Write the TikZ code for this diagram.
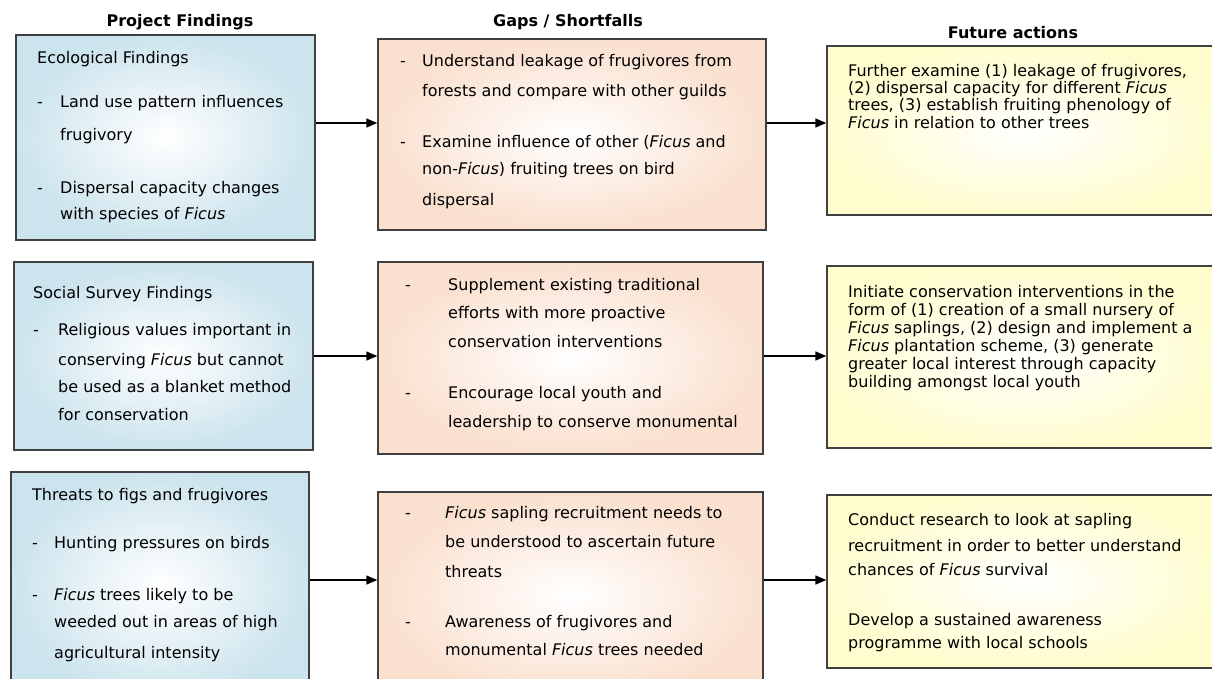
\documentclass[tikz,border=0pt]{standalone}
\usepackage{fontspec}
\setmainfont{DejaVu Sans}
\usetikzlibrary{arrows.meta}
\definecolor{findfill}{RGB}{204,228,237}
\definecolor{gapfill}{RGB}{250,224,206}
\definecolor{actfill}{RGB}{255,253,206}
\definecolor{boxline}{RGB}{64,64,64}
\newcommand{\itmdash}[1]{\makebox[#1][l]{-}}
\newcommand{\itmpad}[1]{\hspace*{#1}}
\begin{document}
\begin{tikzpicture}[x=1pt,y=-1pt,
  panel/.style={draw=boxline,line width=1.4pt,inner sep=0pt},
  txt/.style={anchor=north west,inner sep=0pt,align=left,font=\fontsize{16}{17}\selectfont},
  head/.style={font=\fontsize{16}{18}\selectfont\bfseries},
  flow/.style={line width=1.4pt,-{Triangle[length=11pt,width=9pt]}}]
\useasboundingbox (0,0) rectangle (1212,678);
\clip (0,0) rectangle (1212,678);

\node[head] (hfind) at (180,22) {Project Findings};
\node[head] (hgap) at (568,22) {Gaps / Shortfalls};
\node[head] (hact) at (1013,33) {Future actions};

% boxes
\node[panel,inner color=white,outer color=findfill,minimum width=299pt,minimum height=205pt] (eco) at (165.5,137.5) {};
\node[panel,inner color=white,outer color=findfill,minimum width=299pt,minimum height=188pt] (soc) at (163.5,356) {};
\node[panel,inner color=white,outer color=findfill,minimum width=298pt,minimum height=228pt] (thr) at (160,586) {};
\node[panel,inner color=white,outer color=gapfill,minimum width=388pt,minimum height=191pt] (gap1) at (572,134.5) {};
\node[panel,inner color=white,outer color=gapfill,minimum width=385pt,minimum height=192pt] (gap2) at (570.5,358) {};
\node[panel,inner color=white,outer color=gapfill,minimum width=385pt,minimum height=208pt] (gap3) at (570.5,596) {};
\node[panel,inner color=white,outer color=actfill,minimum width=398pt,minimum height=169pt] (fut1) at (1026,130.5) {};
\node[panel,inner color=white,outer color=actfill,minimum width=398pt,minimum height=182pt] (fut2) at (1026,357) {};
\node[panel,inner color=white,outer color=actfill,minimum width=398pt,minimum height=173pt] (fut3) at (1026,581.5) {};

\node[txt] (ecotxt) at (37,51) {\rule{0pt}{12pt}Ecological Findings\\[27pt]
  \itmdash{23pt}Land use pattern influences\\[16pt]
  \itmpad{23pt}frugivory\\[36pt]
  \itmdash{23pt}Dispersal capacity changes\\[9pt]
  \itmpad{23pt}with species of \textit{Ficus}};
\node[txt] (soctxt) at (33,286) {\rule{0pt}{12pt}Social Survey Findings\\[20pt]
  \itmdash{25pt}Religious values important in\\[13pt]
  \itmpad{25pt}conserving \textit{Ficus} but cannot\\[10pt]
  \itmpad{25pt}be used as a blanket method\\[11pt]
  \itmpad{25pt}for conservation};
\node[txt] (thrtxt) at (32,488) {\rule{0pt}{12pt}Threats to figs and frugivores\\[31pt]
  \itmdash{22pt}Hunting pressures on birds\\[35pt]
  \itmdash{22pt}\textit{Ficus} trees likely to be\\[10pt]
  \itmpad{22pt}weeded out in areas of high\\[14pt]
  \itmpad{22pt}agricultural intensity};

\node[txt] (gap1txt) at (400,54) {\rule{0pt}{12pt}\itmdash{22pt}Understand leakage of frugivores from\\[13pt]
  \itmpad{22pt}forests and compare with other guilds\\[34pt]
  \itmdash{22pt}Examine influence of other (\textit{Ficus} and\\[10pt]
  \itmpad{22pt}non-\textit{Ficus}) fruiting trees on bird\\[14pt]
  \itmpad{22pt}dispersal};
\node[txt] (gap2txt) at (405,278) {\rule{0pt}{12pt}\itmdash{43pt}Supplement existing traditional\\[11pt]
  \itmpad{43pt}efforts with more proactive\\[12pt]
  \itmpad{43pt}conservation interventions\\[34pt]
  \itmdash{43pt}Encourage local youth and\\[12pt]
  \itmpad{43pt}leadership to conserve monumental};
\node[txt] (gap3txt) at (405,506) {\rule{0pt}{12pt}\itmdash{40pt}\textit{Ficus} sapling recruitment needs to\\[12pt]
  \itmpad{40pt}be understood to ascertain future\\[13pt]
  \itmpad{40pt}threats\\[33pt]
  \itmdash{40pt}Awareness of frugivores and\\[11pt]
  \itmpad{40pt}monumental \textit{Ficus} trees needed};

\node[txt] (fut1txt) at (848,64) {\rule{0pt}{12pt}Further examine (1) leakage of frugivores,\\
  (2) dispersal capacity for different \textit{Ficus}\\
  trees, (3) establish fruiting phenology of\\[1pt]
  \textit{Ficus} in relation to other trees};
\node[txt] (fut2txt) at (848,285) {\rule{0pt}{12pt}Initiate conservation interventions in the\\[1pt]
  form of (1) creation of a small nursery of\\[1pt]
  \textit{Ficus} saplings, (2) design and implement a\\[1pt]
  \textit{Ficus} plantation scheme, (3) generate\\[1pt]
  greater local interest through capacity\\[1pt]
  building amongst local youth};
\node[txt] (fut3txt) at (848,513) {\rule{0pt}{12pt}Conduct research to look at sapling\\[9pt]
  recruitment in order to better understand\\[7pt]
  chances of \textit{Ficus} survival\\[33pt]
  Develop a sustained awareness\\[6pt]
  programme with local schools};

% connectors
\coordinate (r1) at (0,123);
\coordinate (r2) at (0,356);
\coordinate (r3) at (0,580);
\draw[flow] (eco.east |- r1) -- (gap1.west |- r1);
\draw[flow] (gap1.east |- r1) -- (fut1.west |- r1);
\draw[flow] (soc.east |- r2) -- (gap2.west |- r2);
\draw[flow] (gap2.east |- r2) -- (fut2.west |- r2);
\draw[flow] (thr.east |- r3) -- (gap3.west |- r3);
\draw[flow] (gap3.east |- r3) -- (fut3.west |- r3);
\end{tikzpicture}
\end{document}
